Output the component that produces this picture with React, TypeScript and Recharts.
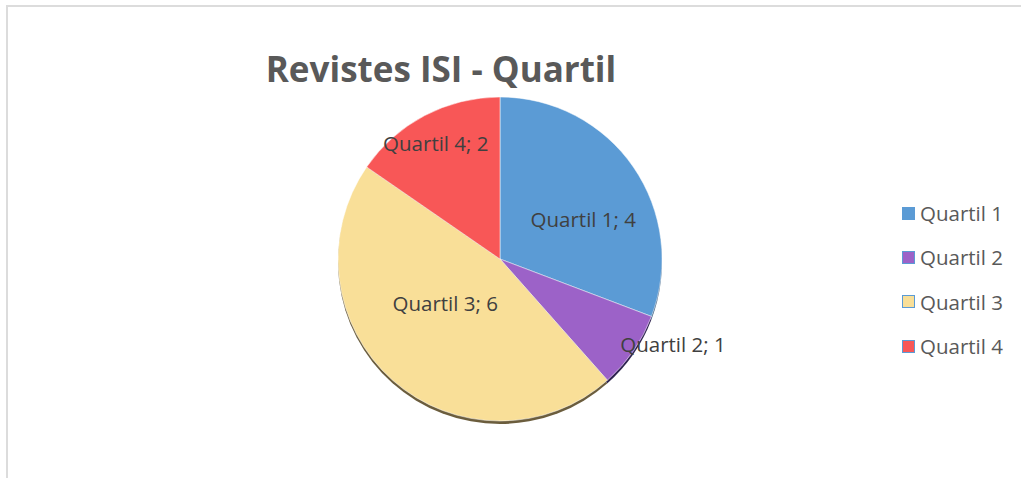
import { PieChart, Pie, Cell, Legend } from "recharts";

const categories = ["Quartil 1", "Quartil 2", "Quartil 3", "Quartil 4"];
const counts = [4, 1, 6, 2];
const chartTitle = "Revistes ISI - Quartil";

const COLORS = ["#5b9bd5", "#9c62c8", "#f9df98", "#f85757"];
const SHADOW = ["#3d5f80", "#2e2350", "#6b5d3d", "#7a3030"];
// Excel "best fit" label placement: radius fraction and angle nudge per slice
const LABEL_R = [0.57, 1.19, 0.435, 0.82];
const LABEL_DA = [-9, 8.4, -9.5, 1.2];

const data = categories.map((name, i) => ({ name, value: counts[i] }));

const RAD = Math.PI / 180;

function renderLabel(props: any) {
  const { cx, cy, midAngle, outerRadius, index, name, value } = props;
  const r = outerRadius * LABEL_R[index];
  const a = midAngle + LABEL_DA[index];
  const x = cx + r * Math.cos(-a * RAD);
  const y = cy + r * Math.sin(-a * RAD);
  return (
    <text x={x} y={y} fill="#404040" fontSize={20.5} textAnchor="middle" dominantBaseline="central"
      fontFamily="'Open Sans', sans-serif">
      {`${name}; ${value}`}
    </text>
  );
}

function LegendBox() {
  return (
    <div style={{ fontFamily: "'Open Sans', sans-serif", fontSize: 20.5, color: "#595959" }}>
      {data.map((d, i) => (
        <div key={d.name} style={{ display: "flex", alignItems: "center", height: 44.3 }}>
          <span style={{
            width: 13, height: 13, background: COLORS[i], marginRight: 5, boxSizing: "border-box",
            border: i === 0 ? "none" : "1.5px solid #5b9bd5",
          }} />
          {d.name}
        </div>
      ))}
    </div>
  );
}

export default function App() {
  return (
    <div style={{ position: "absolute", left: 0, top: 0, width: 1021, height: 478, overflow: "hidden", background: "#fff" }}>
      <div style={{ position: "absolute", left: 6, top: 5, width: 1100, height: 600, borderLeft: "2px solid #dcdcdc", borderTop: "2px solid #dcdcdc" }} />
      <div style={{
        position: "absolute", left: 0, width: 882, top: 45, textAlign: "center",
        fontFamily: "'Open Sans', sans-serif", fontWeight: 700, fontSize: 35, color: "#595959",
      }}>
        {chartTitle}
      </div>
      <div style={{ position: "absolute", left: 0, top: 0 }}>
        <PieChart width={1021} height={478}>
          <Pie data={data} dataKey="value" nameKey="name" cx={495} cy={257} outerRadius={162}
            startAngle={90} endAngle={-270} stroke="none" isAnimationActive={false} legendType="none">
            {data.map((d, i) => <Cell key={d.name} fill={SHADOW[i]} />)}
          </Pie>
          <Pie data={data} dataKey="value" nameKey="name" cx={495} cy={254} outerRadius={162}
            startAngle={90} endAngle={-270} stroke="#ffffff" strokeWidth={0.5} isAnimationActive={false}
            label={renderLabel} labelLine={false}>
            {data.map((d, i) => <Cell key={d.name} fill={COLORS[i]} />)}
          </Pie>
          <Legend content={<LegendBox />} layout="vertical" wrapperStyle={{ left: 902, top: 191, width: 120 }} />
        </PieChart>
      </div>
    </div>
  );
}
